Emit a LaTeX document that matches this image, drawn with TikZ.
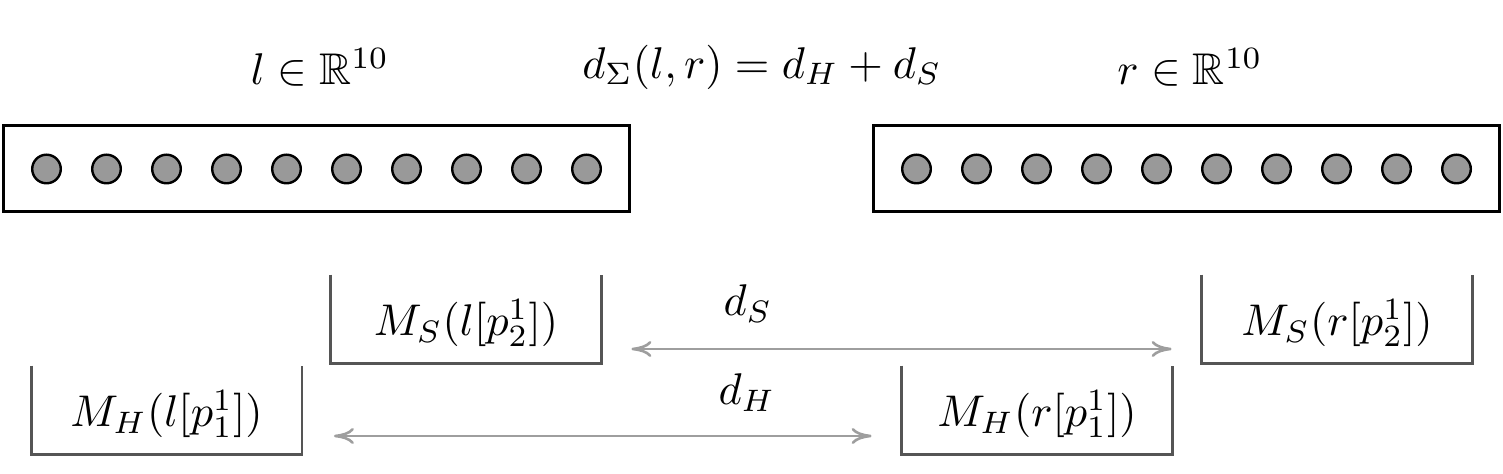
\documentclass[tikz,border=0pt]{standalone}
\usepackage{graphicx}
\usepackage{amssymb}
\usetikzlibrary{arrows.meta}
\newcommand\bigmath[1]{\scalebox{2.22}{$#1$}}
\definecolor{dotfill}{HTML}{999999}
\definecolor{bucketcol}{HTML}{555555}
\definecolor{arrcol}{HTML}{9E9E9E}
\tikzset{
  vecbox/.style={draw=black, line width=1.5pt, minimum width=313pt, minimum height=43pt, inner sep=0pt},
  dot/.style={circle, draw=black, fill=dotfill, line width=1.2pt, minimum size=14.3pt, inner sep=0pt},
  bucket/.style={minimum width=135pt, minimum height=44pt, inner sep=0pt},
  bucketline/.style={draw=bucketcol, line width=1.4pt},
  toplbl/.style={inner sep=0pt, anchor=center},
  lbl/.style={inner sep=0pt, anchor=base},
  distarrow/.style={draw=arrcol, line width=1.3pt, {To[length=10pt,width=8pt]}-{To[length=10pt,width=8pt]}},
}
\begin{document}
\begin{tikzpicture}[x=0.5pt,y=-0.5pt]
\useasboundingbox (0,0) rectangle (1503,474);
% vectors
\node[vecbox] (lbox) at (316.5,169) {};
\node[vecbox] (rbox) at (1186.5,169) {};
\foreach \i in {0,...,9} {
  \node[dot] (l\i) at (46.5+60*\i,169) {};
  \node[dot] (r\i) at (916.5+60*\i,169) {};
}
% top labels
\node[toplbl] (ltxt) at (320,67) {\bigmath{l\in\mathbb{R}^{10}}};
\node[toplbl] (dtxt) at (762,67) {\bigmath{d_\Sigma(l,r) = d_H + d_S}};
\node[toplbl] (rtxt) at (1190,67) {\bigmath{r\in\mathbb{R}^{10}}};
% buckets (text sits slightly below the bucket's centre)
\node[bucket] (msl) at (466,323) {\bigmath{M_S(l[p^1_2])}};
\node[bucket] (mhl) at (166.5,414) {\bigmath{M_H(l[p^1_1])}};
\node[bucket] (mhr) at (1037,414) {\bigmath{M_H(r[p^1_1])}};
\node[bucket] (msr) at (1337,323) {\bigmath{M_S(r[p^1_2])}};
\foreach \b in {msl,mhl,mhr,msr}
  \draw[bucketline] ([yshift=2pt]\b.north west) |- ([yshift=2pt]\b.south east) -- ([yshift=2pt]\b.north east);
% distances
\coordinate (ysy) at (0,349);
\coordinate (yhy) at (0,436);
\draw[distarrow, shorten <=15pt, shorten >=15pt] (msl.east |- ysy) -- (msr.west |- ysy);
\draw[distarrow, shorten <=16pt, shorten >=15pt] (mhl.east |- yhy) -- (mhr.west |- yhy);
\node[lbl] (dslbl) at (748,316) {\bigmath{d_S}};
\node[lbl] (dhlbl) at (747,405) {\bigmath{d_H}};
\end{tikzpicture}
\end{document}
